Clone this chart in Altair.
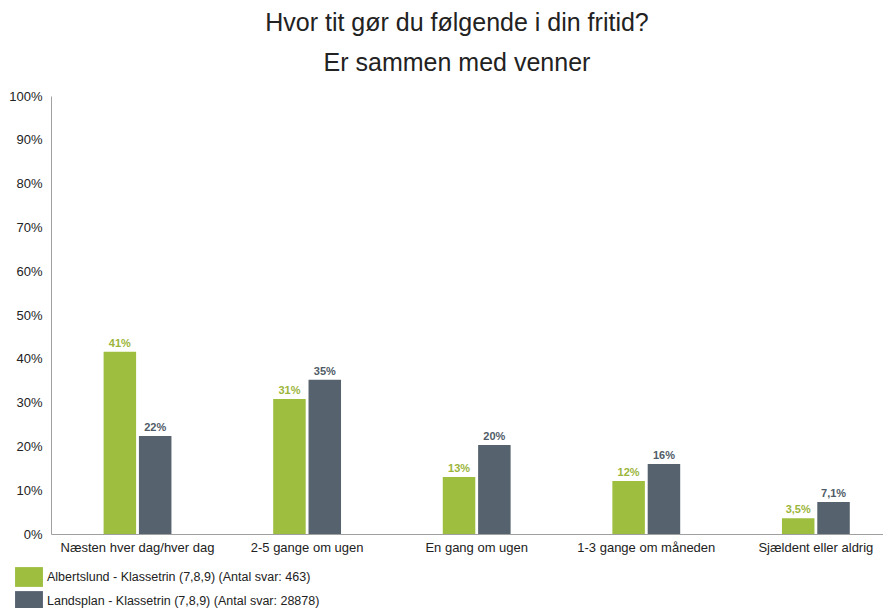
import altair as alt
import pandas as pd

categories = ["Næsten hver dag/hver dag", "2-5 gange om ugen", "En gang om ugen",
              "1-3 gange om måneden", "Sjældent eller aldrig"]
series = ["Albertslund - Klassetrin (7,8,9) (Antal svar: 463)",
          "Landsplan - Klassetrin (7,8,9) (Antal svar: 28878)"]
albertslund = [41.6, 30.8, 13.0, 12.1, 3.6]
landsplan = [22.4, 35.2, 20.3, 16.0, 7.3]
albertslund_labels = ["41%", "31%", "13%", "12%", "3,5%"]
landsplan_labels = ["22%", "35%", "20%", "16%", "7,1%"]
colors = ["#9dbe3f", "#56636f"]
label_colors = ["#9bb53a", "#4f5b66"]

rows = []
for i, c in enumerate(categories):
    rows.append({"cat": c, "serie": series[0], "val": albertslund[i] / 100, "lab": albertslund_labels[i]})
    rows.append({"cat": c, "serie": series[1], "val": landsplan[i] / 100, "lab": landsplan_labels[i]})
df = pd.DataFrame(rows)

FONT = "Liberation Sans"

x = alt.X("cat:N", sort=categories, title=None,
          scale=alt.Scale(paddingInner=0.6, paddingOuter=0.253, align=0.613),
          axis=alt.Axis(labelAngle=0, labelFontSize=13, labelColor="#222", labelFont=FONT,
                        domainColor="#a0a0a0", ticks=False, labelPadding=7))
xo = alt.XOffset("serie:N", sort=series, scale=alt.Scale(paddingInner=0.08))
y = alt.Y("val:Q", title=None,
          scale=alt.Scale(domain=[0, 1]),
          axis=alt.Axis(format=".0%", values=[i / 10 for i in range(11)], grid=False, ticks=False,
                        labelFontSize=13, labelColor="#222", labelFont=FONT, domainColor="#a0a0a0",
                        labelPadding=9))

bars = alt.Chart(df).mark_bar().encode(
    x=x, xOffset=xo, y=y,
    color=alt.Color("serie:N", sort=series, scale=alt.Scale(domain=series, range=colors),
                    legend=alt.Legend(title=None, orient="none", legendX=-31, legendY=472,
                                      direction="vertical", symbolType="M-1.55,-1.1H1.55V1.1H-1.55Z",
                                      symbolSize=324, symbolStrokeWidth=0, labelFontSize=12.5,
                                      labelFont=FONT, labelColor="#222", rowPadding=4,
                                      labelLimit=500, padding=0, symbolOffset=0, labelOffset=9)),
)

text = alt.Chart(df).mark_text(dy=-8, fontSize=11, font=FONT, fontWeight="bold").encode(
    x=x, xOffset=xo, y=y, text="lab:N",
    color=alt.Color("serie:N", sort=series, scale=alt.Scale(domain=series, range=label_colors), legend=None),
)

chart = alt.layer(bars, text).resolve_scale(color="independent").properties(
    width=832, height=438,
    autosize=alt.AutoSizeParams(type="none"),
    title=alt.TitleParams(["Hvor tit gør du følgende i din fritid?", "Er sammen med venner"],
                          fontSize=25, font=FONT, fontWeight="normal", color="#222",
                          lineHeight=40, anchor="middle", dx=-10, offset=14),
    padding={"left": 43, "top": 88, "right": 0, "bottom": 74},
).configure_view(stroke=None)

chart.save("out.html", embed_options={"renderer": "svg", "actions": False})
